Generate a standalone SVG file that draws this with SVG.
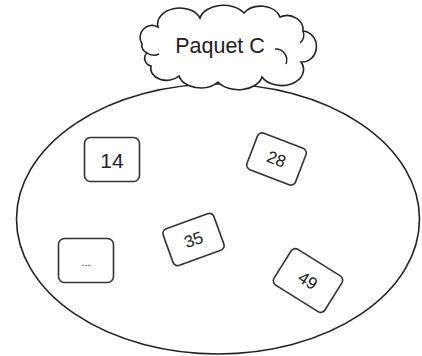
<svg xmlns="http://www.w3.org/2000/svg" width="422" height="356" viewBox="0 0 422 356">
<style>
.shape{fill:#fff;stroke:#222;stroke-width:1.6}
.box{fill:#fff;stroke:#333;stroke-width:1.6}
.lbl{font-family:"Liberation Sans",Arial,sans-serif;fill:#222;text-anchor:middle}
</style>
<rect width="422" height="356" fill="#fff"/>
<g id="set">
<ellipse class="shape" cx="218" cy="219" rx="201.5" ry="135"/>
</g>
<g id="cloud">
<path class="shape" d="M142,44 A12,12 0 0 1 158,27 A22,16 0 0 1 200,18 A24,16 0 0 1 244,13 A20,15 0 0 1 280,17 A16,14 0 0 1 303,31 A13,14 0 0 1 301,62 A22,16 0 0 1 262,77 A24,16 0 0 1 218,82 A22,15 0 0 1 179,76 A16,12 0 0 1 151,66 A9,8 0 0 1 147,53 A8,8 0 0 1 142,44 Z"/>
<path d="M147,53 A12,12 0 0 0 159,54 M275,49 A11,11 0 0 1 286,64 M300,43 A10,10 0 0 0 303,31" fill="none" stroke="#222" stroke-width="1.4"/>
<text class="lbl" x="220" y="53" font-size="21.5">Paquet C</text>
</g>
<g id="n14">
<rect class="box" x="84.5" y="137.5" width="55" height="44" rx="6"/>
<text class="lbl" x="112" y="168" font-size="21">14</text>
</g>
<g id="n28" transform="translate(276.5,159) rotate(21)">
<rect class="box" x="-26" y="-19.5" width="52" height="39" rx="5"/>
<text class="lbl" x="0" y="6" font-size="17">28</text>
</g>
<g id="n35" transform="translate(193.5,239.5) rotate(-20)">
<rect class="box" x="-27" y="-19.5" width="54" height="39" rx="5"/>
<text class="lbl" x="0" y="6" font-size="17">35</text>
</g>
<g id="n49" transform="translate(308,280.5) rotate(32)">
<rect class="box" x="-30" y="-21" width="60" height="42" rx="5"/>
<text class="lbl" x="0" y="6" font-size="17">49</text>
</g>
<g id="ndots">
<rect class="box" x="58.5" y="238.5" width="55" height="44" rx="6"/>
<text class="lbl" x="86" y="266" font-size="11" fill="#555">...</text>
</g>
</svg>
